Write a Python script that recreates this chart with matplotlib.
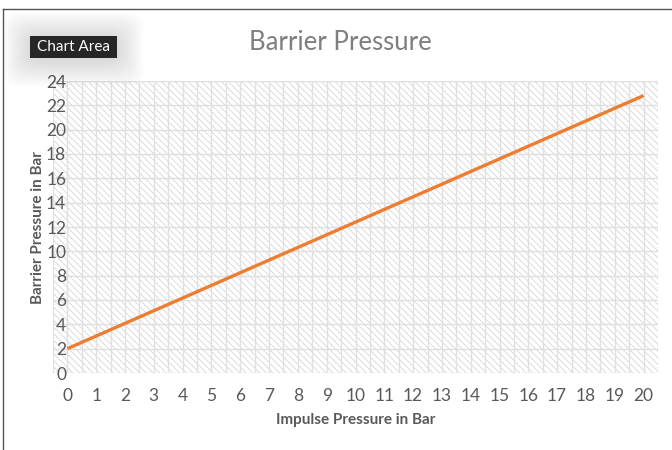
import matplotlib
matplotlib.use("Agg")
import matplotlib.pyplot as plt
from matplotlib.patches import FancyBboxPatch, Rectangle
import numpy as np

plt.rcParams['font.family'] = ['Lato', 'DejaVu Sans']
plt.rcParams['hatch.color'] = '#d6d6d6'
plt.rcParams['hatch.linewidth'] = 0.6

title = "Barrier Pressure"
x_label = "Impulse Pressure in Bar"
y_label = "Barrier Pressure in Bar"
impulse = [0, 1, 2, 3, 4, 5, 6, 7, 8, 9, 10, 11, 12, 13, 14, 15, 16, 17, 18, 19, 20]
barrier = [2.0, 3.04, 4.08, 5.12, 6.16, 7.2, 8.24, 9.28, 10.32, 11.36, 12.4,
           13.44, 14.48, 15.52, 16.56, 17.6, 18.64, 19.68, 20.72, 21.76, 22.8]
y_ticks = [0, 2, 4, 6, 8, 10, 12, 14, 16, 18, 20, 22, 24]

fig = plt.figure(figsize=(6.72, 4.5), dpi=100)
ax = fig.add_axes([53/672, 1-373/450, (658-53)/672, (373-81)/450])

ax.set_xlim(-0.5, 20.5)
ax.set_ylim(0, 24)

# hatched plot area
ax.add_patch(Rectangle((0, 0), 1, 1, transform=ax.transAxes, facecolor='white',
                       hatch='\\\\\\\\\\', edgecolor='#d6d6d6', linewidth=0, zorder=0))

# gridlines
for gx in np.arange(-0.5, 20.51, 0.5):
    ax.axvline(gx, color='#e0e0e0', linewidth=1.0, zorder=1)
for gy in y_ticks:
    ax.axhline(gy, color='#e0e0e0', linewidth=1.0, zorder=1)

ax.plot(impulse, barrier, color='#ED7D31', linewidth=2.4, zorder=3, solid_capstyle='butt')

ax.set_xticks(impulse)
ax.set_xticklabels([str(v) for v in impulse])
ax.set_yticks(y_ticks)
ax.tick_params(axis='both', length=0, labelsize=12.5, labelcolor='#595959')
ax.tick_params(axis='x', pad=11)
ax.tick_params(axis='y', pad=-9.5)
for lab in ax.get_yticklabels():
    lab.set_zorder(5)
for s in ax.spines.values():
    s.set_visible(False)

fig.text(356/672, 1-420/450, x_label, ha='center', va='center', fontsize=11,
         fontweight='bold', color='#595959')
fig.text(38/672, 1-228/450, y_label, ha='center', va='center', rotation=90,
         fontsize=11, fontweight='bold', color='#595959')
fig.text(340/672, 1-42/450, title, ha='center', va='center', fontsize=18.5,
         color='#7f7f7f')

# chart area frame (top and left edges)
fig.add_artist(plt.Line2D([3/672, 3/672], [0, 1-9/450], transform=fig.transFigure,
                          color='#555555', linewidth=1.0))
fig.add_artist(plt.Line2D([3/672, 1], [1-9/450, 1-9/450], transform=fig.transFigure,
                          color='#555555', linewidth=1.0))

# tooltip soft shadow
for i in range(12):
    pad = (12 - i) * 2.2
    fig.add_artist(FancyBboxPatch(((30 - pad)/672, 1-(60 + pad)/450),
                                  (87 + 2*pad)/672, (22 + 2*pad)/450,
                                  boxstyle="round,pad=0,rounding_size=0.03",
                                  transform=fig.transFigure, facecolor='black',
                                  edgecolor='none', alpha=0.012))
fig.add_artist(Rectangle((30/672, 1-58/450), 87/672, 22/450, transform=fig.transFigure,
                         facecolor='#262626', edgecolor='none'))
fig.text(73.5/672, 1-47/450, "Chart Area", ha='center', va='center', fontsize=11,
         color='white')

fig.savefig("out.png", dpi=100)
